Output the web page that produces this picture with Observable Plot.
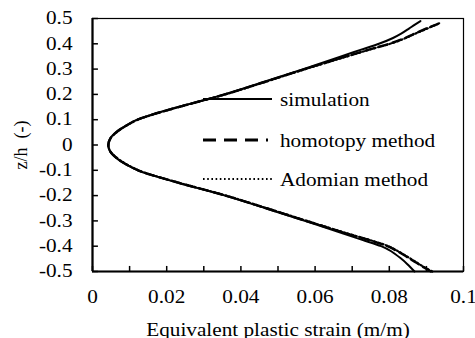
<!DOCTYPE html>
<html><head><meta charset="utf-8">
<script src="https://cdn.jsdelivr.net/npm/d3@7"></script>
<script src="https://cdn.jsdelivr.net/npm/@observablehq/plot@0.6"></script>
<style>
body{margin:0;background:#fff;}
#wrap{position:relative;width:475px;height:338px;}
#wrap svg{position:absolute;left:0;top:0;}
#wrap text{font-family:'Liberation Serif','Times New Roman',serif !important;font-size:18px;font-variant:normal;}
</style></head><body><div id="wrap"></div>
<script>
// z/h positions and equivalent plastic strain (m/m) for each series
const zSim   = [-0.5,-0.47,-0.447,-0.42,-0.4,-0.375,-0.35,-0.3,-0.25,-0.2,-0.15,-0.12,-0.1,-0.075,-0.05,-0.025,0,0.025,0.05,0.075,0.1,0.12,0.15,0.2,0.25,0.3,0.35,0.375,0.4,0.423,0.44,0.46,0.475,0.49];
const epsSim = [0.0868,0.0848,0.0830,0.0805,0.0778,0.0727,0.0676,0.0572,0.0466,0.0357,0.0232,0.0162,0.0122,0.0088,0.0063,0.0047,0.0042,0.0047,0.0063,0.0088,0.0120,0.0160,0.0230,0.0355,0.0463,0.0568,0.0670,0.0720,0.0772,0.0810,0.0832,0.0853,0.0868,0.0884];
const zHom   = [-0.5,-0.48,-0.46,-0.44,-0.42,-0.4,-0.38,-0.35,-0.3,-0.25,-0.2,-0.15,-0.12,-0.1,-0.075,-0.05,-0.025,0,0.025,0.05,0.075,0.1,0.12,0.15,0.2,0.25,0.3,0.35,0.38,0.4,0.42,0.44,0.46,0.478];
const epsHom = [0.0912,0.0889,0.0867,0.0845,0.0822,0.0795,0.0755,0.0686,0.0576,0.0469,0.0359,0.0234,0.0163,0.0123,0.0089,0.0064,0.0048,0.0043,0.0048,0.0064,0.0089,0.0121,0.0161,0.0232,0.0357,0.0466,0.0572,0.0684,0.0752,0.0800,0.0838,0.0868,0.0899,0.0930];
const zAdo   = [-0.5,-0.48,-0.46,-0.44,-0.42,-0.4,-0.38,-0.35,-0.3,-0.25,-0.2,-0.15,-0.12,-0.1,-0.075,-0.05,-0.025,0,0.025,0.05,0.075,0.1,0.12,0.15,0.2,0.25,0.3,0.35,0.38,0.4,0.42,0.44,0.46,0.482];
const epsAdo = [0.0916,0.0891,0.0869,0.0847,0.0824,0.0797,0.0757,0.0688,0.0578,0.0470,0.0360,0.0235,0.0164,0.0124,0.0090,0.0065,0.0048,0.0043,0.0048,0.0065,0.0090,0.0122,0.0162,0.0233,0.0358,0.0467,0.0574,0.0686,0.0754,0.0802,0.0840,0.0870,0.0902,0.0936];
const seriesNames = ["simulation","homotopy method","Adomian method"];
const xTicks = [0,0.01,0.02,0.03,0.04,0.05,0.06,0.07,0.08,0.09,0.1];
const xTickLabels = [0,0.02,0.04,0.06,0.08,0.1];
const yTicks = [-0.5,-0.4,-0.3,-0.2,-0.1,0,0.1,0.2,0.3,0.4,0.5];
const xLabel = "Equivalent plastic strain (m/m)";
const yLabel = "z/h\u00a0\u00a0(-)";

const toRows = (zs, es) => zs.map((z, i) => ({z, eps: es[i]}));
const sim = toRows(zSim, epsSim), hom = toRows(zHom, epsHom), ado = toRows(zAdo, epsAdo);

const fmt = d => d === 0 ? "0" : String(+d.toFixed(2));
const x0 = xTicks[0], x1 = xTicks[xTicks.length - 1];
const y0 = yTicks[0], y1 = yTicks[yTicks.length - 1];

const chart = Plot.plot({
  width: 475, height: 338,
  marginLeft: 92, marginRight: 12, marginTop: 18, marginBottom: 67,
  style: {fontFamily: "'Liberation Serif', 'Times New Roman', serif", fontSize: "18px", color: "#000", background: "#fff"},
  x: {domain: [x0, x1]},
  y: {domain: [y0, y1]},
  marks: [
    Plot.frame({stroke: "#000", strokeWidth: 1.2}),
    Plot.ruleX([x0], {stroke: "#000", strokeWidth: 2.2}),
    Plot.ruleY([y0], {stroke: "#000", strokeWidth: 2.2}),
    Plot.ruleX(xTicks, {y1: y0, y2: y0 + (y1 - y0) * 0.02, stroke: "#000", strokeWidth: 1.5}),
    Plot.ruleY(yTicks, {x1: x0, x2: x0 + (x1 - x0) * 0.016, stroke: "#000", strokeWidth: 1.5}),
    Plot.axisX({ticks: xTickLabels, tickSize: 0, tickPadding: 19, tickFormat: fmt, label: xLabel, labelAnchor: "center", labelOffset: 64, labelArrow: "none"}),
    Plot.axisY({ticks: yTicks, tickSize: 0, tickPadding: 20, tickFormat: fmt, label: yLabel, labelAnchor: "center", labelOffset: 78, labelArrow: "none"}),
    Plot.line(ado, {x: "eps", y: "z", curve: "catmull-rom", stroke: "#000", strokeWidth: 2.2, strokeDasharray: "1.6,2.4"}),
    Plot.line(hom, {x: "eps", y: "z", curve: "catmull-rom", stroke: "#000", strokeWidth: 2.4, strokeDasharray: "9,5"}),
    Plot.line(sim, {x: "eps", y: "z", curve: "catmull-rom", stroke: "#000", strokeWidth: 2})
  ]
});
const wrap = document.getElementById("wrap");
wrap.appendChild(chart);

// legend overlay
const lg = d3.select(wrap).append("svg").attr("width", 475).attr("height", 338);
const legendY = [99, 140, 179];
const dashes = [null, "13,8", "1.6,2.6"];
const widths = [2, 2.8, 2];
const ends = [272, 268, 272];
seriesNames.forEach((name, i) => {
  lg.append("line").attr("x1", 203).attr("x2", ends[i]).attr("y1", legendY[i]).attr("y2", legendY[i])
    .attr("stroke", "#000").attr("stroke-width", widths[i]).attr("stroke-dasharray", dashes[i]);
  lg.append("text").attr("x", 280).attr("y", legendY[i] + 6.5).attr("fill", "#000").text(name);
});

// horizontally widen non-rotated text to match the reference's aspect
document.querySelectorAll("#wrap text").forEach(t => {
  const tr = t.getAttribute("transform") || "";
  if (tr.includes("rotate")) return;
  const L = t.getComputedTextLength();
  if (L > 0) { t.setAttribute("textLength", L * 1.18); t.setAttribute("lengthAdjust", "spacingAndGlyphs"); }
});
</script></body></html>
